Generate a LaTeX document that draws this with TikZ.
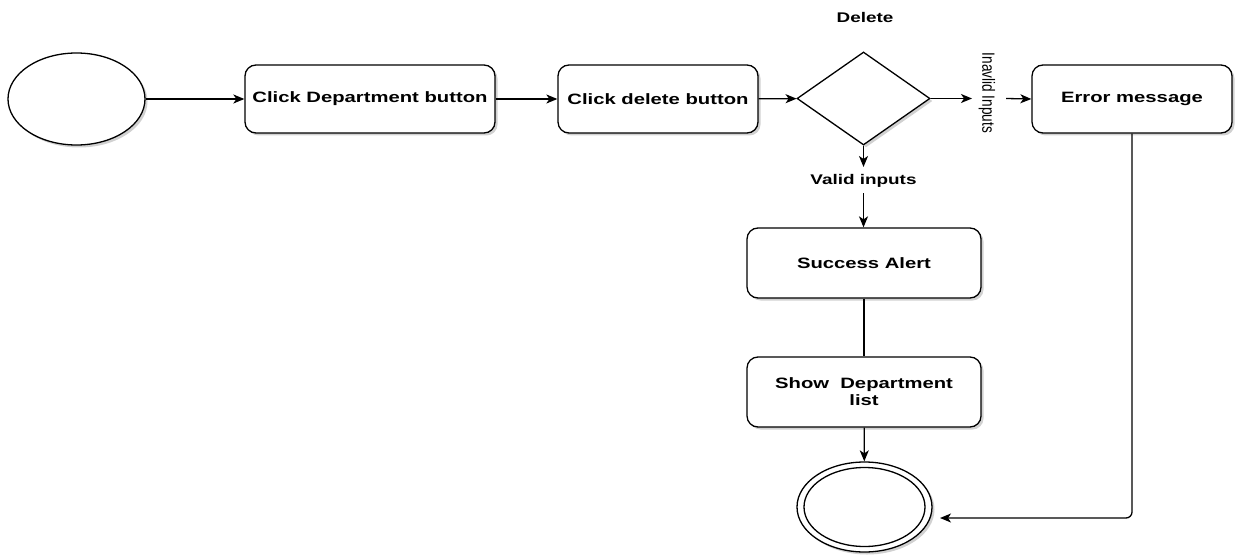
\documentclass[tikz,border=0pt]{standalone}
\usepackage{fontspec}
\setmainfont{Liberation Sans}
\newfontfamily\widefont{Liberation Sans}[FakeStretch=1.35]
\usetikzlibrary{arrows.meta,shapes.geometric,shadows}

\tikzset{
  shade/.style={drop shadow={shadow xshift=2.5pt, shadow yshift=-2.5pt, opacity=0.3, fill=black!60}},
  stepbox/.style={draw, line width=1.3pt, rounded corners=11pt, fill=white, shade,
    minimum height=68pt, inner sep=0pt, align=center,
    font=\widefont\bfseries\fontsize{15}{17}\selectfont},
  oval/.style={draw, line width=1.3pt, ellipse, fill=white, inner sep=0pt},
  choice/.style={draw, line width=1.3pt, diamond, fill=white, shade, inner sep=0pt,
    minimum width=133pt, minimum height=93pt},
  caption/.style={font=\widefont\bfseries\fontsize{14}{16}\selectfont, inner sep=0pt},
  flow/.style={line width=1.3pt, -{Stealth[length=11pt, width=9pt, inset=3pt]}},
  plain/.style={line width=1.3pt},
}

\begin{document}
\begin{tikzpicture}[x=1pt, y=-1pt]
  \useasboundingbox (0,0) rectangle (1246,556);

  % start and end states
  \node[oval, shade, minimum width=137pt, minimum height=92pt] (start) at (76.5,99) {};
  \node[oval, shade, minimum width=135pt, minimum height=90pt] (finish) at (864.5,507) {};
  \node[oval, minimum width=121pt, minimum height=79pt] (finishin) at (864.5,507) {};

  % actions
  \node[stepbox, minimum width=250pt] (dept) at (370,99) {Click Department button};
  \node[stepbox, minimum width=200pt] (del) at (658,99) {Click delete button};
  \node[choice] (check) at (863.5,98.5) {};
  \node[stepbox, minimum width=200pt] (err) at (1132,99) {Error message};
  \node[stepbox, minimum width=234pt, minimum height=70pt] (ok) at (864,263) {Success Alert};
  \node[stepbox, minimum width=234pt, minimum height=70pt] (list) at (864,392) {Show\ \ Department\\list};

  % labels
  \node[caption] (deltitle) at (865,17) {Delete};
  \node[caption] (validlbl) at (863.5,181) {Valid inputs};
  \node[inner sep=0pt, rotate=-90] (invalidlbl) at (987,93)
    {\scalebox{1}[1.3]{\fontsize{13.6}{15}\selectfont Inavlid Inputs}};

  % connector ends
  \coordinate (invA) at (972,98.5);
  \coordinate (invB) at (1006,98.5);
  \coordinate (valA) at (863.5,167);
  \coordinate (valB) at (863.5,193);
  \coordinate (errtip) at (940,518);

  % connectors
  \draw[flow] (start) -- (dept);
  \draw[flow] (dept) -- (del);
  \draw[flow] (del) -- (check);
  \draw[flow] (check.east) -- (invA);
  \draw[flow] (invB) -- (err.west);
  \draw[flow] (check.south) -- (valA);
  \draw[flow] (valB) -- (valB |- ok.north);
  \draw[plain] (ok) -- (list);
  \draw[flow] (list) -- (finish);
  \draw[flow, rounded corners=6pt] (err.south) |- (errtip);
\end{tikzpicture}
\end{document}
